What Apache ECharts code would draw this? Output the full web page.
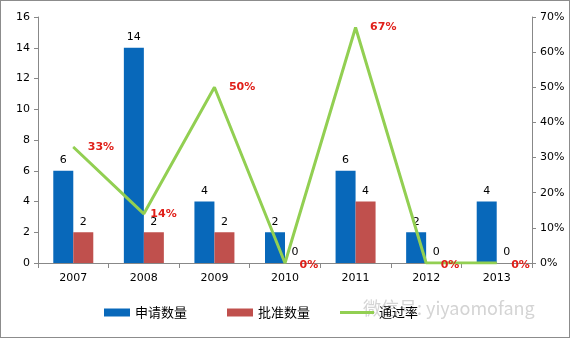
<!DOCTYPE html>
<html><head><meta charset="utf-8">
<script src="https://cdn.jsdelivr.net/npm/echarts@6/dist/echarts.min.js"></script>
<style>html,body{margin:0;padding:0;background:#fff}#c{width:568px;height:336px;border:1px solid #8c8c8c}</style>
</head><body><div id="c"></div>
<script>
var categories = ['2007','2008','2009','2010','2011','2012','2013'];
var applied = [6,14,4,2,6,2,4];
var approved = [2,2,2,0,4,0,0];
var passRate = [33,14,50,0,67,0,0];
var leftTicks = {min:0, max:16, interval:2};
var rightTicks = {min:0, max:70, interval:10};

var chart = echarts.init(document.getElementById('c'));
var lbl = {show:true, position:'top', color:'#000', fontSize:11, fontFamily:'DejaVu Sans', distance:5};
var legText = {fontSize:13, color:'#000', fontFamily:'Noto Sans CJK SC'};
chart.setOption({
  animation:false,
  grid:{left:37, right:37, top:16, bottom:74},
  legend:[{
    bottom:13, left:98, itemGap:40, itemWidth:26, itemHeight:8,
    textStyle:legText,
    data:[{name:'申请数量', icon:'rect'},{name:'批准数量', icon:'rect'}]
  },{
    bottom:13, left:334, itemWidth:34, itemHeight:3, itemGap:4,
    textStyle:legText,
    data:[{name:'通过率', icon:'rect'}]
  }],
  xAxis:{type:'category', data:categories,
    axisLine:{lineStyle:{color:'#888'}},
    axisTick:{show:true, lineStyle:{color:'#888'}, length:5},
    axisLabel:{color:'#000', fontSize:11, fontFamily:'DejaVu Sans', margin:10}},
  yAxis:[
    {type:'value', min:leftTicks.min, max:leftTicks.max, interval:leftTicks.interval,
     splitLine:{show:false}, axisLine:{show:true, lineStyle:{color:'#888'}},
     axisTick:{show:true, lineStyle:{color:'#888'}, length:4},
     axisLabel:{color:'#000', fontSize:11, fontFamily:'DejaVu Sans', margin:8}},
    {type:'value', min:rightTicks.min, max:rightTicks.max, interval:rightTicks.interval,
     splitLine:{show:false}, axisLine:{show:true, lineStyle:{color:'#888'}},
     axisTick:{show:true, lineStyle:{color:'#888'}, length:4},
     axisLabel:{color:'#000', fontSize:11, fontFamily:'DejaVu Sans', margin:8, formatter:'{value}%'}}
  ],
  series:[
    {name:'申请数量', type:'bar', data:applied, barWidth:20, barGap:'0%',
     itemStyle:{color:'#0868BA'}, label:lbl, z:3},
    {name:'批准数量', type:'bar', data:approved, barWidth:20, barGap:'0%',
     itemStyle:{color:'#C0504D'}, label:lbl, z:3},
    {name:'通过率', type:'line', yAxisIndex:1, z:4, data:passRate.map(function(v,i){
        var d = {value:v};
        if (i===1) d.label = {distance:6};
        if (v===0) d.label = {offset:[0,2]};
        return d;
      }),
     symbol:'circle', symbolSize:1, showSymbol:true,
     lineStyle:{color:'#92CF52', width:3}, itemStyle:{color:'#92CF52'},
     label:{show:true, position:'right', distance:14, color:'#E0201A', fontWeight:'bold',
       fontSize:11, fontFamily:'DejaVu Sans', formatter:'{c}%'}}
  ],
  graphic:[{type:'text', left:362, top:298, z:-1,
    style:{text:'微信号: yiyaomofang', fill:'#d4d4d4', font:'18px "Noto Sans CJK SC"'}}]
});
</script></body></html>
